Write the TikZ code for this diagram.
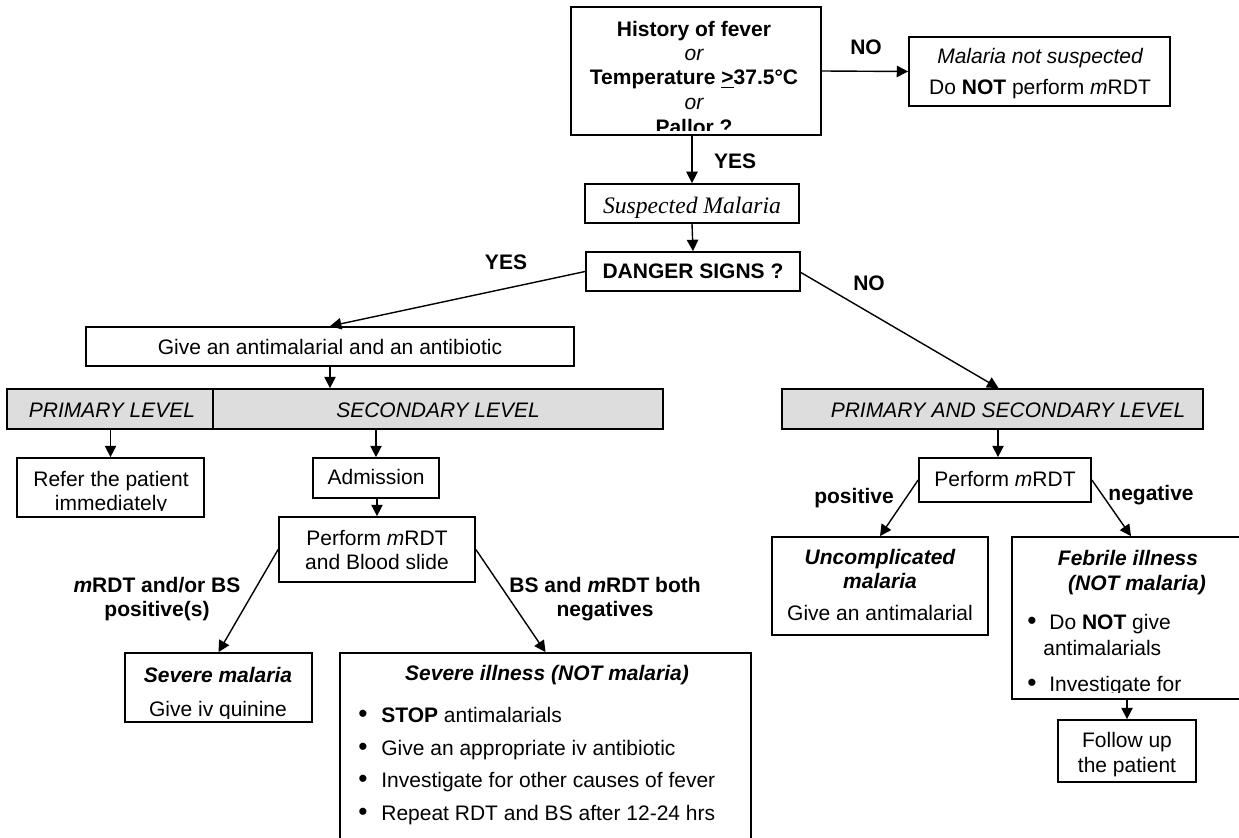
\documentclass[tikz,border=0pt]{standalone}
\usepackage{fontspec}
\setmainfont{Liberation Sans}
\newfontfamily\timesfont{Liberation Serif}
\usetikzlibrary{arrows.meta,fit,calc}
\definecolor{lvlgray}{RGB}{221,221,221}
\newcommand\fs{\fontsize{12}{13.8}\selectfont}

\begin{document}
\begin{tikzpicture}[x=0.5714pt,y=-0.5714pt,
  every node/.style={font=\fs},
  box/.style={draw,line width=1pt,inner sep=0pt,fill=white},
  lvl/.style={box,fill=lvlgray},
  arr/.style={-{Triangle[length=6.5pt,width=6.5pt]},line width=0.8pt},
  txtc/.style={inner sep=0pt,anchor=base},
  txtl/.style={inner sep=0pt,anchor=base west},
  fbold/.style={font=\fs\bfseries},
  fital/.style={font=\fs\itshape},
  fbi/.style={font=\fs\bfseries\itshape},
  bul/.style={inner sep=0pt,anchor=base,font=\fontsize{15}{15}\selectfont}]

\clip (0,0) rectangle (1239,837);

% ---------- boxes ----------
\node[box,fit={(571,7)(821,135)}] (q) {};
\node[box,fit={(909,37)(1170,106)}] (mns) {};
\node[box,fit={(585,184)(799,223)}] (sus) {};
\node[box,fit={(586,252)(800,291)}] (dng) {};
\node[box,fit={(86,327)(574,366)}] (give) {};
\node[lvl,fit={(7,389)(213,429)}] (prim) {};
\node[lvl,fit={(213,389)(663,429)}] (sec) {};
\node[lvl,fit={(782,389)(1203,429)}] (ps) {};
\node[box,fit={(17,458)(204,517)}] (refer) {};
\node[box,fit={(313,458)(439,498)}] (adm) {};
\node[box,fit={(279,517)(475,582)}] (pbs) {};
\node[box,fit={(125,653)(312,722)}] (sm) {};
\node[box,fit={(340,653)(751,870)}] (si) {};
\node[box,fit={(919,458)(1091,502)}] (pm) {};
\node[box,fit={(772,537)(988,635)}] (unc) {};
\node[box,fit={(1012,537)(1250,699)}] (feb) {};
\node[box,fit={(1058,720)(1196,782)}] (fol) {};

% ---------- question at the top ----------
\begin{scope}
  \clip (571,7) rectangle (821,130.5);
  \node[txtc,fbold] (qa) at (694,37) {History of fever};
  \node[txtc,fital] (qb) at (694,61) {or};
  \node[txtc,fbold] (qc) at (694,85) {Temperature \underline{>}37.5°C};
  \node[txtc,fital] (qd) at (694,109.5) {or};
  \node[txtc,fbold] (qe) at (694,134.5) {Pallor ?};
\end{scope}

\node[txtc,fital] (mnsa) at (1040,64) {Malaria not suspected};
\node[txtc] (mnsb) at (1040,95) {Do \textbf{NOT} perform \textit{m}RDT};

\node[txtc,font=\fontsize{13.5}{15}\selectfont\timesfont\itshape] (susa) at (692,213) {Suspected Malaria};
\node[txtc,fbold] (dnga) at (693,278.5) {DANGER SIGNS ?};

% ---------- danger signs: yes ----------
\node[txtc] (givea) at (330,354) {Give an antimalarial and an antibiotic};
\node[txtc,fital] (prima) at (112,417) {PRIMARY LEVEL};
\node[txtc,fital] (seca) at (438,417) {SECONDARY LEVEL};

\begin{scope}
  \clip (17,458) rectangle (204,510.5);
  \node[txtc] (refera) at (111,486) {Refer the patient};
  \node[txtc] (referb) at (111,510) {immediately};
\end{scope}

\node[txtc] (adma) at (376,484) {Admission};
\node[txtc] (pbsa) at (377,545) {Perform \textit{m}RDT};
\node[txtc] (pbsb) at (377,569) {and Blood slide};

\node[txtc,fbold] (posa) at (157,592) {\textit{m}RDT and/or BS};
\node[txtc,fbold] (posb) at (157,616) {positive(s)};
\node[txtc,fbold] (nega) at (605,592) {BS and \textit{m}RDT both};
\node[txtc,fbold] (negb) at (605,616) {negatives};

\begin{scope}
  \clip (125,653) rectangle (312,718);
  \node[txtc,fbi] (sma) at (218,682) {Severe malaria};
  \node[txtc] (smb) at (218,716.5) {Give iv quinine};
\end{scope}

\node[txtc,fbi] (sia) at (547,680) {Severe illness (NOT malaria)};
\node[bul] (sib1) at (363,722) {•};
\node[txtl] (sit1) at (381,722) {\textbf{STOP} antimalarials};
\node[bul] (sib2) at (363,755) {•};
\node[txtl] (sit2) at (381,755) {Give an appropriate iv antibiotic};
\node[bul] (sib3) at (363,787.5) {•};
\node[txtl] (sit3) at (381,787.5) {Investigate for other causes of fever};
\node[bul] (sib4) at (363,820) {•};
\node[txtl] (sit4) at (381,820) {Repeat RDT and BS after 12-24 hrs};

% ---------- danger signs: no ----------
\node[txtc,fital] (psa) at (1008,417) {PRIMARY AND SECONDARY LEVEL};
\node[txtc] (pma) at (1005,486) {Perform \textit{m}RDT};
\node[txtc,fbold] (pos) at (854,503) {positive};
\node[txtc,fbold] (neg) at (1151,500) {negative};

\node[txtc,fbi] (unca) at (880,564) {Uncomplicated};
\node[txtc,fbi] (uncb) at (880,588) {malaria};
\node[txtc] (uncc) at (880,620) {Give an antimalarial};

\begin{scope}
  \clip (1012,537) rectangle (1250,692);
  \node[txtc,fbi] (feba) at (1128,565) {Febrile illness};
  \node[txtc,fbi] (febb) at (1137,590) {(NOT malaria)};
  \node[bul] (febc1) at (1032,629) {•};
  \node[txtl] (febt1) at (1049,629) {Do \textbf{NOT} give};
  \node[txtl] (febt1b) at (1043,655) {antimalarials};
  \node[bul] (febc2) at (1032,691) {•};
  \node[txtl] (febt2) at (1049,691) {Investigate for};
\end{scope}

\node[txtc] (fola) at (1127,747) {Follow up};
\node[txtc] (folb) at (1127,772) {the patient};

% ---------- arrow labels ----------
\node[txtc,fbold] (noa) at (866,55) {NO};
\node[txtc,fbold] (yesa) at (735,169) {YES};
\node[txtc,fbold] (yesb) at (506,269) {YES};
\node[txtc,fbold] (nob) at (869,290) {NO};

% ---------- connectors ----------
\draw[arr] (q.east) -- (mns.west);
\draw[arr] (q.south -| sus.north) -- (sus.north);
\draw[arr] (sus.south) -- (dng.north);
\draw[arr] (dng.west) -- (give.north);
\draw[arr] ($(dng.east)+(0,1)$) -- ($(ps.north)+(6,0)$);
\draw[arr] (give.south) -- (give.south |- sec.north);
\draw[arr] (prim.south -| refer.north) -- (refer.north);
\draw[arr] (sec.south -| adm.north) -- (adm.north);
\draw[arr] (adm.south -| pbs.north) -- (pbs.north);
\draw[arr] (pbs.west) -- (sm.north);
\draw[arr] (pbs.east) -- (si.north);
\draw[arr] ($(ps.south -| pm.north)+(-7,0)$) -- ($(pm.north)+(-7,0)$);
\draw[arr] (pm.west) -- (unc.north);
\draw[arr] (pm.east) -- (feb.north);
\draw[arr] (feb.south -| fol.north) -- (fol.north);
\end{tikzpicture}
\end{document}
